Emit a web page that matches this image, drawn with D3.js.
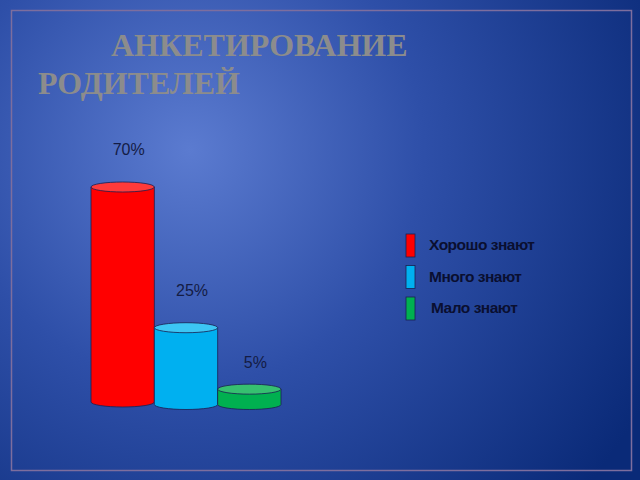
<!DOCTYPE html>
<html><head><meta charset="utf-8">
<script src="https://cdn.jsdelivr.net/npm/d3@7"></script>
<style>html,body{margin:0;padding:0;background:#1a3a90;}svg{display:block;}</style>
</head><body>
<script>
const categories = ["Хорошо знают", "Много знают", "Мало знают"];
const values = [70, 25, 5];
const labels = ["70%", "25%", "5%"];
const colors = ["#ff0000", "#00b0f0", "#00b050"];
const topColors = ["#ff3a3a", "#3cc6f4", "#36c070"];

const W = 640, H = 480;
const svg = d3.select("body").append("svg").attr("width", W).attr("height", H);
const defs = svg.append("defs");
const rg = defs.append("radialGradient").attr("id", "bg")
  .attr("gradientUnits", "userSpaceOnUse").attr("cx", 190).attr("cy", 150).attr("r", 520);
rg.append("stop").attr("offset", "0%").attr("stop-color", "#5b7bd0");
rg.append("stop").attr("offset", "45%").attr("stop-color", "#2e4fa8");
rg.append("stop").attr("offset", "100%").attr("stop-color", "#0a2a78");
svg.append("rect").attr("width", W).attr("height", H).attr("fill", "url(#bg)");

// frame
svg.append("rect").attr("x", 11.5).attr("y", 10.5).attr("width", 620).attr("height", 460)
  .attr("fill", "none").attr("stroke", "#7d6e9e").attr("stroke-width", 1.5);

// title
const title = svg.append("text").attr("font-family", "'Liberation Serif', 'Times New Roman', serif")
  .attr("font-weight", "bold").attr("font-size", 32).attr("fill", "#8c8c8c");
title.append("tspan").attr("x", 111).attr("y", 56).text("АНКЕТИРОВАНИЕ");
title.append("tspan").attr("x", 38).attr("y", 94).text("РОДИТЕЛЕЙ");

// bars
const x = d3.scaleBand().domain(categories).range([91, 281]).paddingInner(0).paddingOuter(0);
const baseline = [402, 404.5, 404.5];
const y = d3.scaleLinear().domain([0, 70]).range([0, 215]);
const ry = [5, 5, 5];

const g = svg.append("g");
categories.forEach((c, i) => {
  const x0 = x(c), w = x.bandwidth();
  const cx = x0 + w / 2, rx = w / 2;
  const b = baseline[i];
  const h = y(values[i]);
  const t = b - h;
  const r = ry[i];
  const path = `M${x0},${t} L${x0},${b} A${rx},${r} 0 0 0 ${x0 + w},${b} L${x0 + w},${t} Z`;
  g.append("path").attr("d", path).attr("fill", colors[i]).attr("stroke", "#1a2050").attr("stroke-width", 0.8);
  g.append("ellipse").attr("cx", cx).attr("cy", t).attr("rx", rx).attr("ry", r)
    .attr("fill", topColors[i]).attr("stroke", "#1a2050").attr("stroke-width", 0.8);
  g.append("text").attr("x", cx + 6).attr("y", t - (i === 2 ? 21 : 32))
    .attr("text-anchor", "middle").attr("font-family", "'Liberation Sans', Arial, sans-serif")
    .attr("font-size", 16).attr("fill", "#141c44").text(labels[i]);
});

// legend
const leg = svg.append("g");
categories.forEach((c, i) => {
  const ly = 234 + i * 31.5;
  leg.append("rect").attr("x", 406).attr("y", ly).attr("width", 9).attr("height", 23)
    .attr("fill", colors[i]).attr("stroke", "#1a2050").attr("stroke-width", 0.8);
  leg.append("text").attr("x", 429 + (i === 2 ? 2 : 0)).attr("y", ly + 16)
    .attr("font-family", "'Liberation Sans', Arial, sans-serif").attr("font-weight", "bold")
    .attr("font-size", 15.5).attr("letter-spacing", -0.5).attr("fill", "#0a0f30").text(c);
});
</script>
</body></html>
